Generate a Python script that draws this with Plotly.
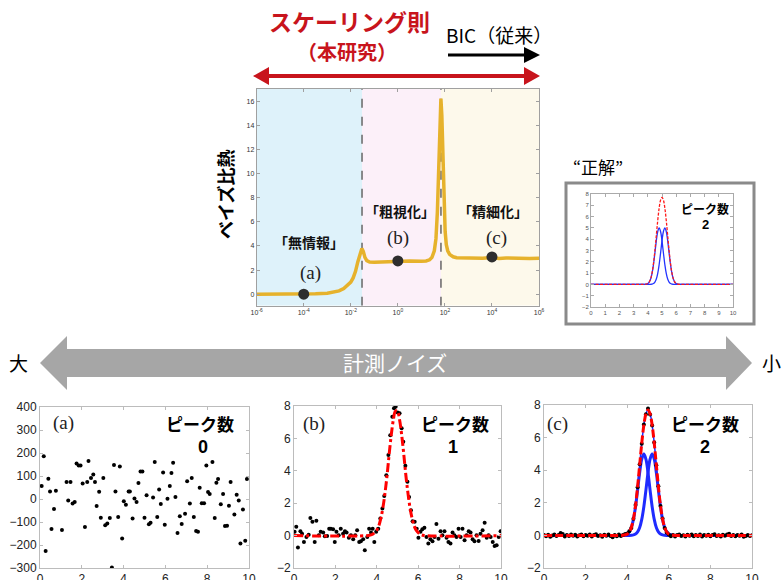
import plotly.graph_objects as go

W, H = 783, 580

# ---------------- data ----------------
# Main chart: Bayes specific heat vs noise (log10 of x)
BC_LOGX = [-6.0, -5.5, -5.0, -4.5, -4.0, -3.5, -3.0, -2.7, -2.5, -2.3, -2.1, -2.0, -1.9, -1.8, -1.7, -1.6,
           -1.53, -1.47, -1.40, -1.32, -1.2, -1.0, -0.5, 0.0, 0.5, 1.0, 1.2, 1.35, 1.45, 1.55, 1.62, 1.68,
           1.74, 1.79, 1.83, 1.87, 1.91, 1.96, 2.01, 2.06, 2.12, 2.2, 2.35, 2.5, 2.8, 3.0, 3.3, 3.6, 4.0,
           4.3, 4.6, 5.0, 5.3, 5.6, 6.0]
BC_Y = [0.00, 0.00, 0.01, 0.01, 0.02, 0.04, 0.09, 0.17, 0.28, 0.48, 0.77, 1.00, 1.35, 1.90, 2.70, 3.45,
        3.78, 3.55, 3.05, 2.78, 2.66, 2.64, 2.68, 2.74, 2.75, 2.74, 2.76, 2.85, 3.05, 3.6, 4.6, 6.8,
        10.5, 14.2, 16.2, 14.8, 11.5, 7.6, 5.2, 4.1, 3.6, 3.3, 3.1, 3.02, 3.0, 2.98, 3.03, 2.99, 3.04,
        2.97, 3.01, 2.98, 3.02, 2.97, 2.98]
REGION_EDGES = [1e-6, 0.03, 68, 1e6]
MARK_X = [1e-4, 1, 1e4]
MARK_Y = [0.0, 2.76, 3.09]
MAIN_XTICKS = [1e-6, 1e-4, 1e-2, 1, 1e2, 1e4, 1e6]
MAIN_XTICKTEXT = ["10<sup>-6</sup>", "10<sup>-4</sup>", "10<sup>-2</sup>", "10<sup>0</sup>",
                  "10<sup>2</sup>", "10<sup>4</sup>", "10<sup>6</sup>"]
MAIN_YTICKS = [0, 2, 4, 6, 8, 10, 12, 14, 16]

# Two-peak model curves (inset and panel c)
G_X = [0, 3.6, 3.8, 4.0, 4.1, 4.2, 4.3, 4.4, 4.5, 4.6, 4.7, 4.8, 4.9, 5.0, 5.1, 5.2, 5.3, 5.4, 5.5,
       5.6, 5.7, 5.8, 5.9, 6.0, 6.2, 6.4, 10]
PEAK1 = [0, 0, 0.01, 0.08, 0.21, 0.48, 0.98, 1.76, 2.78, 3.85, 4.68, 5.0, 4.68, 3.85, 2.78, 1.76, 0.98,
         0.48, 0.21, 0.08, 0.03, 0.01, 0, 0, 0, 0, 0]
PEAK2 = [0, 0, 0, 0, 0, 0.01, 0.03, 0.08, 0.21, 0.48, 0.98, 1.76, 2.78, 3.85, 4.68, 5.0, 4.68, 3.85,
         2.78, 1.76, 0.98, 0.48, 0.21, 0.08, 0.01, 0, 0]
PEAK_SUM = [0, 0, 0.01, 0.08, 0.21, 0.49, 1.01, 1.84, 2.99, 4.33, 5.66, 6.76, 7.46, 7.70, 7.46, 6.76,
            5.66, 4.33, 2.99, 1.84, 1.01, 0.49, 0.21, 0.08, 0.01, 0, 0]

# Panel (a): pure noise
PA_X = [0.08, 0.18, 0.27, 0.40, 0.48, 0.55, 0.67, 0.76, 1.05, 1.27, 1.35, 1.46, 1.56, 1.66, 1.75, 1.85,
        1.94, 2.04, 2.15, 2.26, 2.32, 2.44, 2.55, 2.63, 2.71, 2.83, 2.91, 3.03, 3.12, 3.22, 3.34, 3.44,
        3.54, 3.61, 3.74, 3.82, 3.93, 4.01, 4.11, 4.24, 4.30, 4.43, 4.52, 4.62, 4.71, 4.81, 4.90, 5.00,
        5.10, 5.21, 5.29, 5.41, 5.49, 5.61, 5.70, 5.78, 5.89, 5.97, 6.10, 6.21, 6.29, 6.37, 6.48, 6.58,
        6.69, 6.78, 6.94, 7.04, 7.17, 7.26, 7.36, 7.47, 7.56, 7.64, 7.74, 7.85, 7.96, 8.04, 8.12, 8.25,
        8.36, 8.44, 8.52, 8.65, 8.76, 8.85, 8.95, 9.04, 9.12, 9.30, 9.41, 9.51, 9.59, 9.71, 9.82, 9.90]
PA_Y = [57, 186, -226, 88, 33, -130, -43, 36, -135, 74, -6, 74, -20, -13, 154, 146,
        146, 67, -122, 74, 165, 91, 106, 74, -30, 31, -81, 91, -114, -107, -83, -298,
        148, 33, -78, 141, -172, -10, -25, 33, 33, -85, 2, -13, 70, 120, 120, -81,
        16, -110, -103, 6, 161, -78, 41, -22, 115, -112, 1, 57, 113, 158, 9, -148,
        -75, -109, -64, 77, -20, 91, -78, -139, -142, 49, -19, -19, 146, 30, 22, 161,
        -83, 71, 87, -23, 22, -117, -116, -29, 74, -67, 19, -7, -194, -46, -181, 87]

# Panel (b): one peak
PB_X = [0.03, 0.11, 0.19, 0.31, 0.39, 0.48, 0.60, 0.71, 0.79, 0.89, 1.00, 1.08, 1.20, 1.29, 1.41, 1.49,
        1.60, 1.70, 1.78, 1.89, 1.97, 2.05, 2.16, 2.26, 2.37, 2.46, 2.54, 2.65, 2.75, 2.86, 2.96, 3.05,
        3.15, 3.23, 3.34, 3.42, 3.54, 3.63, 3.72, 3.80, 3.88, 3.97, 4.07, 4.17, 4.27, 4.36, 4.46, 4.56,
        4.65, 4.75, 4.83, 4.91, 5.01, 5.10, 5.20, 5.28, 5.38, 5.48, 5.56, 5.65, 5.73, 5.83, 5.93, 6.01,
        6.11, 6.20, 6.30, 6.40, 6.49, 6.59, 6.69, 6.79, 6.88, 6.98, 7.08, 7.17, 7.27, 7.37, 7.46, 7.56,
        7.66, 7.75, 7.85, 7.95, 8.05, 8.14, 8.24, 8.34, 8.44, 8.53, 8.63, 8.72, 8.82, 8.92, 9.01, 9.11,
        9.21, 9.31, 9.40, 9.50, 9.60, 9.69, 9.79, 9.89, 9.98]
PB_Y = [0.23, 0.54, -0.74, 0.27, 0.12, -0.39, -0.08, 0.06, 1.09, 0.85, -0.39, 0.91, 0.02, 0.23, 0.19, -0.04,
        -0.02, 0.43, 0.43, 0.39, -0.39, 0.23, 0.02, 0.43, 0.12, 0.27, 0.19, -0.14, 0.02, -0.23, 0.02, 0.33,
        -0.39, -0.35, -0.23, -0.91, -0.08, 0.43, 0.19, 0.43, -0.39, 0.23, 0.43, 1.05, 1.67, 2.45, 3.73, 4.97,
        6.20, 7.34, 7.86, 7.96, 7.60, 7.55, 6.62, 5.79, 4.31, 3.32, 2.39, 1.57, 0.89, 0.85, 0.43, -0.14,
        0.23, 0.39, 0.49, -0.08, -0.49, -0.23, -0.35, -0.08, 0.72, -0.19, 0.27, 0.02, 0.27, -0.14, -0.39, -0.49,
        0.19, 0.02, -0.08, 0.43, -0.08, 0.43, -0.29, 0.02, 0.27, 0.19, -0.23, -0.35, 0.02, -0.33, 0.12, 0.33,
        0.80, -0.14, 0.02, -0.08, -0.39, -0.64, -0.60, -0.08, 0.27]
FIT_B_X = [0, 3.6, 3.8, 4.0, 4.1, 4.2, 4.3, 4.4, 4.5, 4.6, 4.7, 4.8, 4.9, 5.0, 5.1, 5.2, 5.3, 5.4, 5.5,
           5.6, 5.7, 5.8, 5.9, 6.1, 6.3, 10]
FIT_B_Y = [0, 0.01, 0.08, 0.34, 0.62, 1.09, 1.76, 2.67, 3.77, 5.06, 6.23, 7.15, 7.68, 7.68, 7.15, 6.23,
           5.06, 3.77, 2.67, 1.76, 1.09, 0.62, 0.34, 0.08, 0.01, 0]

# Panel (c): two peaks
PC_X = [0.0, 0.1, 0.2, 0.3, 0.4, 0.5, 0.6, 0.7, 0.8, 0.9, 1.0, 1.1, 1.2, 1.3, 1.4, 1.5, 1.6, 1.7, 1.8, 1.9,
        2.0, 2.1, 2.2, 2.3, 2.4, 2.5, 2.6, 2.7, 2.8, 2.9, 3.0, 3.1, 3.2, 3.3, 3.4, 3.5, 3.6, 3.7, 3.8, 3.9,
        4.0, 4.1, 4.2, 4.3, 4.4, 4.5, 4.6, 4.7, 4.8, 4.9, 5.0, 5.1, 5.2, 5.3, 5.4, 5.5, 5.6, 5.7, 5.8, 5.9,
        6.0, 6.1, 6.2, 6.3, 6.4, 6.5, 6.6, 6.7, 6.8, 6.9, 7.0, 7.1, 7.2, 7.3, 7.4, 7.5, 7.6, 7.7, 7.8, 7.9,
        8.0, 8.1, 8.2, 8.3, 8.4, 8.5, 8.6, 8.7, 8.8, 8.9, 9.0, 9.1, 9.2, 9.3, 9.4, 9.5, 9.6, 9.7, 9.8, 9.9, 10.0]
PC_Y = [0.02, -0.05, 0.04, -0.08, 0.0, 0.06, -0.04, 0.03, 0.14, 0.08, -0.06, 0.02, -0.03, 0.05, -0.02, 0.04,
        -0.07, 0.01, 0.06, -0.05, 0.03, -0.02, 0.05, -0.06, 0.02, 0.07, -0.03, 0.01, -0.08, 0.04, -0.02, 0.05,
        -0.04, -0.12, 0.03, -0.05, 0.06, -0.03, 0.02, 0.08, 0.12, 0.25, 0.45, 1.02, 1.86, 2.95, 4.36, 5.62,
        6.80, 7.44, 7.78, 7.42, 6.74, 5.70, 4.30, 3.02, 1.80, 1.04, 0.46, 0.18, 0.06, -0.05, 0.03, -0.06,
        0.02, 0.05, -0.04, 0.01, -0.07, 0.04, -0.02, 0.06, -0.05, 0.02, -0.03, 0.05, -0.06, 0.03, -0.02, 0.04,
        -0.05, 0.02, 0.07, -0.03, 0.01, -0.06, 0.04, -0.02, 0.05, 0.10, -0.04, 0.02, -0.05, 0.03, -0.02, 0.06,
        -0.08, -0.04, 0.02, -0.03, 0.01]

# ---------------- helpers ----------------
def fx(p):
    return p / W


def fy(p):
    return 1 - p / H


CJK = "Noto Sans CJK JP"
SANS = "Liberation Sans"
SERIF = "Liberation Serif"

fig = go.Figure()

# ---------------- main chart ----------------
REGION_COLORS = ["#def2fa", "#fcf0f9", "#fdf9eb"]
for i in range(3):
    x0, x1 = REGION_EDGES[i], REGION_EDGES[i + 1]
    fig.add_trace(go.Scatter(x=[x0, x1, x1, x0, x0], y=[-0.95, -0.95, 17, 17, -0.95], mode="lines",
                             fill="toself", fillcolor=REGION_COLORS[i], line=dict(width=0),
                             hoverinfo="skip", xaxis="x", yaxis="y"))
for xb in REGION_EDGES[1:3]:
    fig.add_trace(go.Scatter(x=[xb, xb], y=[-0.95, 17], mode="lines",
                             line=dict(color="#666666", width=1.5, dash="dash"), xaxis="x", yaxis="y"))
fig.add_trace(go.Scatter(x=[10 ** v for v in BC_LOGX], y=BC_Y, mode="lines",
                         line=dict(color="#e6b22c", width=3.5), xaxis="x", yaxis="y"))
fig.add_trace(go.Scatter(x=MARK_X, y=MARK_Y, mode="markers",
                         marker=dict(color="#2e2e2e", size=11), xaxis="x", yaxis="y"))

# ---------------- inset ----------------
fig.add_trace(go.Scatter(x=G_X, y=PEAK1, mode="lines", line=dict(color="#2233ff", width=1.3, shape="spline"),
                         xaxis="x2", yaxis="y2"))
fig.add_trace(go.Scatter(x=G_X, y=PEAK2, mode="lines", line=dict(color="#2233ff", width=1.3, shape="spline"),
                         xaxis="x2", yaxis="y2"))
fig.add_trace(go.Scatter(x=G_X, y=PEAK_SUM, mode="lines",
                         line=dict(color="#ff1a1a", width=1.3, dash="3px,1.5px", shape="spline"),
                         xaxis="x2", yaxis="y2"))

# ---------------- panel (a) ----------------
fig.add_trace(go.Scatter(x=PA_X, y=PA_Y, mode="markers", marker=dict(color="black", size=4),
                         xaxis="x3", yaxis="y3"))

# ---------------- panel (b) ----------------
fig.add_trace(go.Scatter(x=PB_X, y=PB_Y, mode="markers", marker=dict(color="black", size=4),
                         xaxis="x4", yaxis="y4"))
fig.add_trace(go.Scatter(x=FIT_B_X, y=FIT_B_Y, mode="lines",
                         line=dict(color="#ff0000", width=3, dash="dashdot", shape="spline"),
                         xaxis="x4", yaxis="y4"))

# ---------------- panel (c) ----------------
fig.add_trace(go.Scatter(x=G_X, y=PEAK_SUM, mode="lines", line=dict(color="#1f2bff", width=1.5, shape="spline"),
                         xaxis="x5", yaxis="y5"))
fig.add_trace(go.Scatter(x=G_X, y=PEAK1, mode="lines", line=dict(color="#1f2bff", width=3, shape="spline"),
                         xaxis="x5", yaxis="y5"))
fig.add_trace(go.Scatter(x=G_X, y=PEAK2, mode="lines", line=dict(color="#1f2bff", width=3, shape="spline"),
                         xaxis="x5", yaxis="y5"))
fig.add_trace(go.Scatter(x=PC_X, y=PC_Y, mode="markers", marker=dict(color="black", size=4),
                         xaxis="x5", yaxis="y5"))
fig.add_trace(go.Scatter(x=G_X, y=PEAK_SUM, mode="lines",
                         line=dict(color="#ff0000", width=3, dash="8px,3px", shape="spline"),
                         xaxis="x5", yaxis="y5"))

# ---------------- axes ----------------
def small_axis(domain, anchor, rng, dtick, fontsize, color="#bcbcbc", tickcolor="#222"):
    return dict(domain=domain, anchor=anchor, range=rng, dtick=dtick, tick0=rng[0], automargin=False,
                showgrid=False, zeroline=False, showline=True, linecolor=color, linewidth=1,
                mirror="ticks", ticks="inside", ticklen=3, tickcolor=color,
                tickfont=dict(family=SANS, size=fontsize, color=tickcolor))


layout = dict(
    width=W, height=H, margin=dict(l=0, r=0, t=0, b=0, autoexpand=False),
    paper_bgcolor="white", plot_bgcolor="rgba(0,0,0,0)", showlegend=False,
    xaxis=dict(domain=[fx(256.7), fx(539)], anchor="y", type="log", range=[-6, 6], automargin=False,
               tickvals=MAIN_XTICKS, ticktext=MAIN_XTICKTEXT, showgrid=False, zeroline=False,
               showline=True, linecolor="#a0a0a0", mirror="ticks", ticks="inside", ticklen=3,
               tickcolor="#a0a0a0", tickfont=dict(family=SANS, size=7, color="#333")),
    yaxis=dict(domain=[fy(305.7), fy(89)], anchor="x", range=[-0.95, 17], tickvals=MAIN_YTICKS,
               automargin=False,
               showgrid=False, zeroline=False, showline=True, linecolor="#a0a0a0", mirror="ticks",
               ticks="inside", ticklen=3, tickcolor="#a0a0a0",
               tickfont=dict(family=SANS, size=7, color="#333")),
    xaxis2=small_axis([fx(591), fx(733)], "y2", [0, 10], 1, 6, "#aaa", "#555"),
    yaxis2=small_axis([fy(307), fy(194)], "x2", [-2, 8], 1, 6, "#aaa", "#555"),
    xaxis3=small_axis([fx(40), fx(249)], "y3", [0, 10], 2, 12),
    yaxis3=small_axis([fy(568), fy(407)], "x3", [-300, 400], 100, 12),
    xaxis4=small_axis([fx(294), fx(501)], "y4", [0, 10], 2, 12),
    yaxis4=small_axis([fy(568), fy(406)], "x4", [-2, 8], 2, 12),
    xaxis5=small_axis([fx(544), fx(752)], "y5", [0, 10], 2, 12),
    yaxis5=small_axis([fy(568), fy(405)], "x5", [-2, 8], 2, 12),
)
fig.update_layout(**layout)

# ---------------- shapes ----------------
def path(points):
    s = "M " + " L ".join(f"{fx(x):.5f},{fy(y):.5f}" for x, y in points) + " Z"
    return s


shapes = []
# inset frame
shapes.append(dict(type="rect", xref="paper", yref="paper", x0=fx(566), x1=fx(754), y0=fy(324), y1=fy(183),
                   line=dict(color="#8a8a8a", width=3), fillcolor="rgba(0,0,0,0)", layer="below"))
# red double arrow
RED = "#c8141c"
shapes.append(dict(type="path", xref="paper", yref="paper", fillcolor=RED, line=dict(width=0),
                   path=path([(253, 76), (269, 67), (269, 74), (524, 74), (524, 67), (540, 76),
                              (524, 85), (524, 78), (269, 78), (269, 85)])))
# black arrow
shapes.append(dict(type="path", xref="paper", yref="paper", fillcolor="black", line=dict(width=0),
                   path=path([(448, 53.5), (524, 53.5), (524, 47), (540, 55), (524, 63), (524, 56.5),
                              (448, 56.5)])))
# gray big double arrow
shapes.append(dict(type="path", xref="paper", yref="paper", fillcolor="#a6a6a6", line=dict(width=0),
                   path=path([(40, 363), (67, 336), (67, 349), (726, 349), (726, 336), (752, 363),
                              (726, 390), (726, 377), (67, 377), (67, 390)])))
fig.update_layout(shapes=shapes)

# ---------------- annotations ----------------
anns = []


def ann(text, x, y, size, color="black", family=CJK, weight="normal", angle=0, xanchor="center"):
    anns.append(dict(text=text, x=fx(x), y=fy(y), xref="paper", yref="paper", showarrow=False,
                     xanchor=xanchor, yanchor="middle", textangle=angle,
                     font=dict(family=family, size=size, color=color, weight=weight)))


ann("スケーリング則", 349, 21, 23, RED, weight="bold")
ann("（本研究）", 347, 51, 20, RED, weight="bold")
ann("BIC（従来）", 499, 35, 19, "black", weight="normal")
ann("ベイズ比熱", 225, 195, 18, "black", weight="bold", angle=-90)
ann("「無情報」", 309, 242, 14, "#111", weight="bold")
ann("(a)", 310, 273, 19, "#222", family=SERIF)
ann("「粗視化」", 400, 211, 14, "#111", weight="bold")
ann("(b)", 398, 238, 19, "#222", family=SERIF)
ann("「精細化」", 493, 211, 14, "#111", weight="bold")
ann("(c)", 496, 238, 19, "#222", family=SERIF)
ann("“正解”", 598, 166, 17, "black")
ann("ピーク数", 705, 208, 12, "black", weight="bold")
ann("2", 705, 224, 13, "black", family=SANS, weight="bold")
ann("計測ノイズ", 395, 362, 21, "white")
ann("大", 18, 362, 19, "black")
ann("小", 771, 362, 19, "black")
# bottom panels
ann("(a)", 63, 423, 19, "#222", family=SERIF)
ann("ピーク数", 200, 423, 17, "black", weight="bold")
ann("0", 203, 447, 18, "black", family=SANS, weight="bold")
ann("(b)", 314, 424, 19, "#222", family=SERIF)
ann("ピーク数", 455, 423, 17, "black", weight="bold")
ann("1", 453, 447, 18, "black", family=SANS, weight="bold")
ann("(c)", 557, 424, 19, "#222", family=SERIF)
ann("ピーク数", 705, 423, 17, "black", weight="bold")
ann("2", 705, 447, 18, "black", family=SANS, weight="bold")
fig.update_layout(annotations=anns)

PAGE_JS = (
    "document.documentElement.style.margin='0';document.documentElement.style.overflow='hidden';"
    "document.body.style.margin='0';document.body.style.overflow='hidden';"
    "var gds=document.getElementsByClassName('plotly-graph-div');"
    "for(var i=0;i<gds.length;i++){gds[i].style.overflow='hidden';}"
)
fig.write_html("out.html", config={"displayModeBar": False}, post_script=PAGE_JS)
